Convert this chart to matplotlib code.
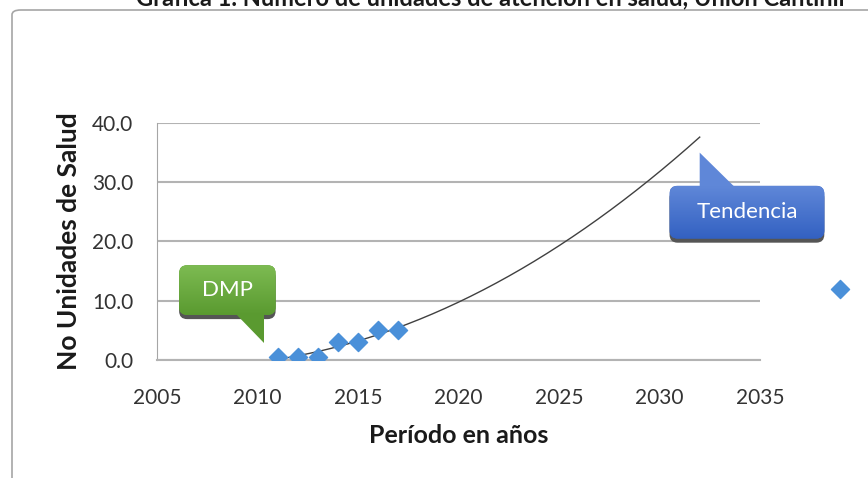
import numpy as np
import matplotlib.pyplot as plt
from matplotlib.colors import to_rgb
from matplotlib.patches import FancyBboxPatch, Polygon

plt.rcParams['font.family'] = ['Lato', 'DejaVu Sans']

# data
years = [2011, 2012, 2013, 2014, 2015, 2016, 2017]
units = [0.5, 0.5, 0.5, 3.0, 3.0, 5.0, 5.0]
extra_year = [2039]
extra_units = [12.0]

x_ticks = [2005, 2010, 2015, 2020, 2025, 2030, 2035]
y_ticks = [0, 10, 20, 30, 40]

title = "Gráfica 1. Número de unidades de atención en salud, Unión Cantinil"
x_label = "Período en años"
y_label = "No Unidades de Salud"

fig = plt.figure(figsize=(8.68, 4.78), dpi=100)
ax = fig.add_axes([157 / 868, 1 - 360 / 478, 603 / 868, 237 / 478])

# chart area border (top and left visible)
fig.patches.append(FancyBboxPatch((12 / 868, -0.2), 1.2, 1.2 - 10 / 478,
                                  boxstyle="round,pad=0,rounding_size=0.01",
                                  transform=fig.transFigure, fill=False,
                                  edgecolor="#a6a6a6", linewidth=1.2))

ax.set_xlim(2005, 2035)
ax.set_ylim(0, 40)
ax.set_xticks(x_ticks)
ax.set_yticks(y_ticks)
ax.set_yticklabels([f"{v:.1f}" for v in y_ticks])
ax.tick_params(length=0, labelsize=15, colors="#333333")
ax.tick_params(axis="y", pad=17)
ax.tick_params(axis="x", pad=20)
ax.grid(axis="y", color="#b3b3b3", linewidth=1.5)
ax.set_axisbelow(True)
for s in ["top", "right"]:
    ax.spines[s].set_visible(False)
ax.spines["left"].set_color("#a6a6a6")
ax.spines["bottom"].set_color("#b3b3b3")
ax.spines["bottom"].set_linewidth(1.5)

# polynomial trend (order 2) like the spreadsheet trendline
coef = np.polyfit(years, units, 2)
xt = np.linspace(2011, 2032, 200)
ax.plot(xt, np.polyval(coef, xt), color="#404040", linewidth=1.0, zorder=3)

ax.scatter(years, units, marker="D", s=85, color="#4a90d9", zorder=4)
ax.scatter(extra_year, extra_units, marker="D", s=85, color="#4a90d9",
           zorder=4, clip_on=False)

ax.set_xlabel(x_label, fontsize=18, fontweight="bold", labelpad=12,
              color="#1a1a1a")
ax.set_ylabel(y_label, fontsize=19, fontweight="bold", labelpad=8,
              color="#1a1a1a")

fig.text(490 / 868, 1 - 5 / 478, title, ha="center", va="baseline",
         fontsize=17, fontweight="bold", color="#1a1a1a")


def callout(x0, y0, x1, y1, tail, tail_color, top_color, bottom_color, label):
    style = "round,pad=0,rounding_size=0.4"
    sh = FancyBboxPatch((x0, y0 - 0.7), x1 - x0, y1 - y0, boxstyle=style,
                        mutation_aspect=3.4, facecolor="#555555",
                        edgecolor="none", clip_on=False, zorder=5)
    ax.add_patch(sh)
    box = FancyBboxPatch((x0, y0), x1 - x0, y1 - y0, boxstyle=style,
                         mutation_aspect=3.4, facecolor=bottom_color,
                         edgecolor="none", clip_on=False, zorder=6)
    ax.add_patch(box)
    ax.add_patch(Polygon(tail, closed=True, facecolor=tail_color,
                         edgecolor="none", clip_on=False, zorder=6))
    # vertical gradient inside the box
    grad = np.linspace(0, 1, 64).reshape(-1, 1, 1)
    c0 = np.array(to_rgb(top_color))
    c1 = np.array(to_rgb(bottom_color))
    img = np.repeat(c0 + (c1 - c0) * grad, 2, axis=1)
    im = ax.imshow(img, extent=(x0, x1, y0, y1), origin="upper",
                   aspect="auto", zorder=6.5, interpolation="bilinear")
    im.set_clip_path(box)
    im.set_clip_box(fig.bbox)
    ax.text((x0 + x1) / 2, (y0 + y1) / 2, label, ha="center", va="center",
            color="white", fontsize=16, zorder=7)


callout(2006.1, 7.6, 2010.9, 16.0,
        [(2008.9, 8.0), (2010.3, 8.0), (2010.3, 2.9)],
        "#5a9a30", "#7dbb52", "#5a9a30", "DMP")
callout(2030.5, 20.5, 2038.2, 29.4,
        [(2032.0, 29.0), (2033.8, 29.0), (2032.0, 35.0)],
        "#5f87d8", "#5f87d8", "#3361c2", "Tendencia")

ax.set_xlim(2005, 2035)
ax.set_ylim(0, 40)

fig.savefig("out.png", dpi=100, facecolor="white")
